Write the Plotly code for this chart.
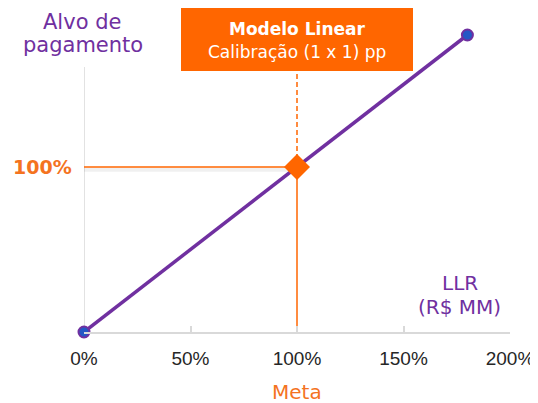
import plotly.graph_objects as go

# ---- data ----
llr_pct = [0, 180]            # LLR (% da meta)
payout_pct = [0, 180]         # Alvo de pagamento (%)
meta_x = [100]
meta_y = [100]
x_tickvals = [0, 50, 100, 150, 200]
x_ticktext = ["0%", "50%", "100%", "150%", "200%"]
y_label_val = 100
y_label_text = "100%"

PURPLE = "#7030A0"
ORANGE = "#FF6600"
ORANGE_TXT = "#F4731F"
GRAY = "#D9D9D9"

# page has an 8px body margin: figure sits at (8, 8)
OFF = 8
W, H = 538 - OFF, 403 - OFF
L, R, T, B = 76, 28, 0, 71
PW, PH = W - L - R, H - T - B
XR = [0, 200]
YR = [0, PH / 1.65]

def data_y(py):
    return YR[0] + (H - B - (py - OFF)) / PH * (YR[1] - YR[0])

def paper_x(px):
    return (px - OFF - L) / PW

def paper_y(py):
    return (H - B - (py - OFF)) / PH

fig = go.Figure()

# shadow under horizontal guide
fig.add_trace(go.Scatter(x=[0, meta_x[0]], y=[meta_y[0] - 1.6, meta_y[0] - 1.6], mode="lines",
                         line=dict(color="rgba(0,0,0,0.06)", width=4), hoverinfo="skip", cliponaxis=False))
# horizontal guide
fig.add_trace(go.Scatter(x=[0, meta_x[0]], y=[meta_y[0], meta_y[0]], mode="lines",
                         line=dict(color=ORANGE, width=1.5), hoverinfo="skip", cliponaxis=False))
# vertical solid guide (below meta)
fig.add_trace(go.Scatter(x=[meta_x[0], meta_x[0]], y=[data_y(373), meta_y[0]], mode="lines",
                         line=dict(color=ORANGE, width=1.5), hoverinfo="skip", cliponaxis=False))
# vertical dashed guide (above meta, to box)
fig.add_trace(go.Scatter(x=[meta_x[0], meta_x[0]], y=[meta_y[0], data_y(71)], mode="lines",
                         line=dict(color=ORANGE, width=1.5, dash="5px,3px"), hoverinfo="skip", cliponaxis=False))

# main linear line
fig.add_trace(go.Scatter(x=llr_pct, y=payout_pct, mode="lines+markers",
                         line=dict(color=PURPLE, width=3.5),
                         marker=dict(size=11, color="#2457C5", line=dict(color=PURPLE, width=2)),
                         hoverinfo="skip", cliponaxis=False))
# meta diamond
fig.add_trace(go.Scatter(x=meta_x, y=meta_y, mode="markers",
                         marker=dict(symbol="diamond", size=20, color=ORANGE, line=dict(width=0)),
                         hoverinfo="skip", cliponaxis=False))

shapes = [
    # y axis line
    dict(type="line", xref="x", yref="y", x0=0, x1=0, y0=0, y1=data_y(67),
         line=dict(color=GRAY, width=1.5), layer="below"),
    # title box
    dict(type="rect", xref="paper", yref="paper", x0=paper_x(181), x1=paper_x(413),
         y0=paper_y(71), y1=paper_y(8), fillcolor=ORANGE, line=dict(width=0), layer="above"),
]

FONT = "DejaVu Sans"

def ann(px, py, text, size, color):
    return dict(x=paper_x(px), y=paper_y(py), xref="paper", yref="paper", text=text,
                showarrow=False, xanchor="center", yanchor="middle",
                font=dict(family=FONT, size=size, color=color))

annotations = [
    ann(297, 29, "<b>Modelo Linear</b>", 17, "white"),
    ann(297, 52, "Calibração (1 x 1) pp", 17, "white"),
    ann(82, 22, "Alvo de", 21, PURPLE),
    ann(83, 45, "pagamento", 21, PURPLE),
    ann(42, 167, "<b>" + y_label_text + "</b>", 19, ORANGE_TXT),
    ann(460, 283, "LLR", 20, PURPLE),
    ann(459, 307, "(R$ MM)", 20, PURPLE),
    ann(297, 392, "Meta", 20, ORANGE_TXT),
]

fig.update_layout(
    width=W, height=H,
    margin=dict(l=L, r=R, t=T, b=B),
    paper_bgcolor="white", plot_bgcolor="white",
    showlegend=False,
    shapes=shapes, annotations=annotations,
    xaxis=dict(range=XR, tickvals=x_tickvals, ticktext=x_ticktext, showgrid=False, zeroline=False,
               showline=True, linecolor=GRAY, linewidth=1.5, ticks="inside", ticklen=6,
               tickcolor=GRAY, tickwidth=1.5, ticklabelstandoff=8,
               tickfont=dict(family="Liberation Sans", size=19, color="#262626"), fixedrange=True),
    yaxis=dict(range=YR, showgrid=False, zeroline=False, showline=False, showticklabels=False,
               fixedrange=True),
)

fig.write_html("out.html")
